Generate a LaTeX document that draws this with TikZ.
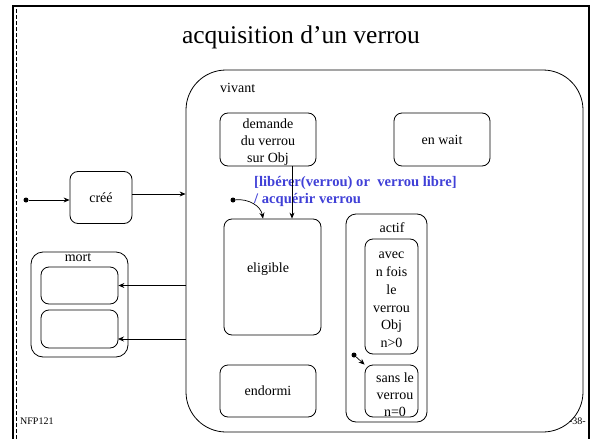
\documentclass[tikz,border=0pt]{standalone}
\usepackage{fontspec}
\setmainfont{Liberation Serif}
\usetikzlibrary{arrows.meta}
\definecolor{gardebleu}{RGB}{64,64,215}
\tikzset{
	etat/.style={draw, rounded corners=8pt, line width=0.8pt, inner sep=0pt, align=center, font=\fontsize{14}{17.5}\selectfont},
	fleche/.style={-{Stealth[length=6pt,width=5pt]}, line width=0.7pt},
	depart/.style={circle, fill=black, inner sep=0pt, minimum size=5pt},
	texte/.style={font=\fontsize{14}{17}\selectfont, inner sep=0pt, align=center}
}

\begin{document}
\begin{tikzpicture}[x=1pt, y=-1pt]
				\useasboundingbox (0,0) rectangle (592,439);
				
				\draw[line width=2.5pt] (13,439) -- (13,6) -- (589,6) -- (589,439);
				\draw[line width=0.6pt, dash pattern=on 4pt off 2pt] (16.5,9) -- (16.5,439);
				
				\node[font=\fontsize{25.5}{30}\selectfont, inner sep=0pt] (titre) at (301,37) {acquisition d'un verrou};
				
				\node[etat, rounded corners=40pt, minimum width=397pt, minimum height=362pt] (vivant) at (384.5,251) {};
				\node[texte, anchor=west] (vivanttxt) at (220,88) {vivant};
				
				\node[etat, minimum width=96pt, minimum height=53pt] (demande) at (268,139.5) {};
				\node[texte] (demandetxt) at (268,142.5) {demande\\du verrou\\sur Obj};
				\node[etat, minimum width=96pt, minimum height=53pt] (wait) at (442,139.5) {en wait};
				\node[etat, minimum width=97pt, minimum height=116pt] (eligible) at (272.5,277) {};
				\node[texte] (eligibletxt) at (268,269) {eligible};
				\node[etat, minimum width=96pt, minimum height=52pt] (endormi) at (268,391) {endormi};
				
				\node[etat, rounded corners=10pt, minimum width=81pt, minimum height=208pt] (actif) at (386.5,318) {};
				\node[texte] (actiftxt) at (392,228) {actif};
				\node[etat, minimum width=53pt, minimum height=115pt] (avec) at (391.5,296.5) {};
				\node[texte, font=\fontsize{14}{17.8}\selectfont] (avectxt) at (391.5,300) {avec\\n fois\\le\\verrou\\Obj\\n>0};
				\node[etat, minimum width=53pt, minimum height=52pt] (sans) at (391.5,391) {};
				\node[texte] (sanstxt) at (395,395) {sans le\\verrou\\n=0};
				
				\node[etat, minimum width=62pt, minimum height=52pt] (cree) at (101,197.5) {créé};
				
				\node[etat, rounded corners=12pt, minimum width=97pt, minimum height=105pt] (mort) at (79.5,304.5) {};
				\node[texte] (morttxt) at (78,258) {mort};
				\node[etat, minimum width=77pt, minimum height=37pt] (mort1) at (79.5,285.5) {};
				\node[etat, minimum width=77pt, minimum height=38pt] (mort2) at (79.5,329) {};
				
				\node[texte, anchor=west, align=left, text=gardebleu, font=\bfseries\fontsize{14.6}{16.5}\selectfont] (garde) at (254,191.5) {[libérer(verrou) or\ \ verrou libre]\\/ acquérir verrou};
				
				\node[depart] (init1) at (26,200) {};
				\node[depart] (init2) at (233,200) {};
				\node[depart] (init3) at (354,355) {};
				\coordinate (m2) at (118,339);
				\coordinate (t) at (292,0);
				\coordinate (e) at (263,0);
				
				\draw[fleche] (init1) -- (init1 -| cree.west);
				\draw[fleche] (cree.east |- 0,194) -- (vivant.west |- 0,194);
				\draw[fleche] (vivant.west |- mort1.east) -- (mort1.east);
				\draw[fleche] (vivant.west |- m2) -- (m2);
				\draw[fleche] (demande.south -| t) -- (eligible.north -| t);
				\draw[fleche] (init2) to[out=5, in=100] (eligible.north -| e);
				\draw[fleche] (init3) -- (sans.north west);
				
				\node[font=\fontsize{10}{12}\selectfont, inner sep=0pt, anchor=west] (nfp) at (20,421) {NFP121};
				\node[font=\fontsize{10}{12}\selectfont, inner sep=0pt, anchor=east] (page) at (586,421) {-38-};
			\end{tikzpicture}
\end{document}
